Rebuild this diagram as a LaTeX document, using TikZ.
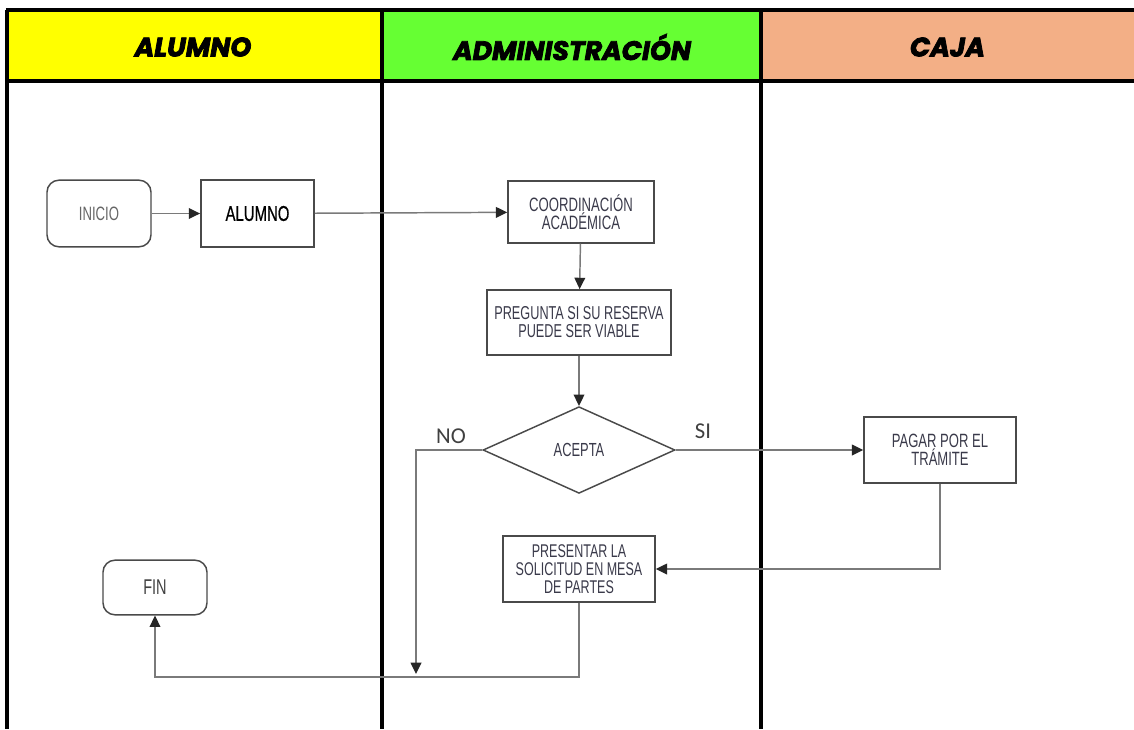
\documentclass[tikz,border=0pt]{standalone}
\usepackage{fontspec}
\setmainfont{Liberation Sans}
\newfontfamily\nar{Liberation Sans}[FakeStretch=0.68]
\newfontfamily\narb{Liberation Sans}[FakeStretch=0.7,FakeBold=0.6]
\newfontfamily\hdr{Poppins}[BoldItalicFeatures={FakeBold=3}]
\newfontfamily\lab{Carlito}
\usetikzlibrary{arrows.meta,shapes.geometric}
\definecolor{hyellow}{HTML}{FFFF00}
\definecolor{hgreen}{HTML}{66FF33}
\definecolor{hsalmon}{HTML}{F3AF86}
\definecolor{txt}{HTML}{3A3A4A}
\definecolor{bord}{HTML}{4A4A4A}
\definecolor{conn}{HTML}{7A7A7A}
\tikzset{
  lane/.style={line width=2.4pt,black},
  hdrtext/.style={font=\hdr\bfseries\itshape\fontsize{20}{22}\selectfont,text=black},
  box/.style={draw=bord,line width=1.1pt,fill=white,inner sep=0pt,align=center,text=txt},
  term/.style={box,rounded corners=9pt},
  dec/.style={draw=bord,line width=1.1pt,fill=white,diamond,inner sep=0pt,align=center,text=txt},
  flow/.style={draw=conn,line width=1.1pt,-{Triangle[length=8.5pt,width=8pt,color=black!85]}},
  yn/.style={font=\lab\fontsize{17}{18}\selectfont,text=black!75}
}
\begin{document}
\begin{tikzpicture}[x=0.75pt,y=-0.75pt]
\useasboundingbox (0,0) rectangle (1134,729);
\fill[white] (0,0) rectangle (1134,729);
% header fills
\fill[hyellow] (7,10) rectangle (382,81);
\fill[hgreen] (382,10) rectangle (761,81);
\fill[hsalmon] (761,10) rectangle (1134,81);
\node[hdrtext] (h1) at (193,47) {ALUMNO};
\node[hdrtext] (h2) at (572,47) {ADMINISTRACIÓN};
\node[hdrtext] (h3) at (947.5,47) {CAJA};
% lane lines
\draw[lane] (5.8,10) -- (1134,10);
\draw[lane] (7,81) -- (1134,81);
\draw[lane] (7,10) -- (7,729);
\draw[lane] (382,10) -- (382,729);
\draw[lane] (761,10) -- (761,729);
% nodes
\node[term,draw=bord,minimum width=78pt,minimum height=50pt,text=black!60,font=\nar\fontsize{14.5}{15}\selectfont] (inicio) at (99,213.5) {INICIO};
\node[box,minimum width=85pt,minimum height=50pt,text=black,font=\narb\fontsize{16}{17}\selectfont] (alumno) at (257.5,213.5) {ALUMNO};
\node[box,minimum width=109.5pt,minimum height=46.5pt,font=\nar\fontsize{14.5}{11.8}\selectfont] (coord) at (581,212) {COORDINACIÓN\\ACADÉMICA};
\node[box,minimum width=138pt,minimum height=49pt,font=\nar\fontsize{14}{13.5}\selectfont] (preg) at (579,322.5) {PREGUNTA SI SU RESERVA\\PUEDE SER VIABLE};
\node[dec,minimum width=144pt,minimum height=65pt,font=\nar\fontsize{14.2}{13}\selectfont] (acepta) at (579,450) {ACEPTA};
\node[box,minimum width=114pt,minimum height=49.5pt,font=\nar\fontsize{14.4}{13.3}\selectfont] (pagar) at (940,450) {PAGAR POR EL\\TRÁMITE};
\node[box,minimum width=114pt,minimum height=49.5pt,font=\nar\fontsize{13.8}{13.7}\selectfont] (present) at (579,569) {PRESENTAR LA\\SOLICITUD EN MESA\\DE PARTES};
\node[term,minimum width=78pt,minimum height=41pt,text=black!75,font=\nar\fontsize{16}{17}\selectfont] (fin) at (155,587.5) {FIN};
% labels
\node[yn] (no) at (451,436) {NO};
\node[yn] (si) at (703,431) {SI};
\coordinate (noturn) at (416,450);
\coordinate (noend) at (416,674);
\coordinate (pturn) at (940,569);
\coordinate (bturn) at (579,677);
\coordinate (fturn) at (155,677);
% connectors
\draw[flow] (inicio) -- (alumno);
\draw[flow] (alumno) -- (coord);
\draw[flow] (coord) -- (preg);
\draw[flow] (preg) -- (acepta);
\draw[flow] (acepta) -- (pagar);
\draw[flow] (acepta.west) -- (noturn) -- (noend);
\draw[flow] (pagar.south) -- (pturn) -- (present.east);
\draw[flow] (present.south) -- (bturn) -- (fturn) -- (fin.south);
\end{tikzpicture}
\end{document}
